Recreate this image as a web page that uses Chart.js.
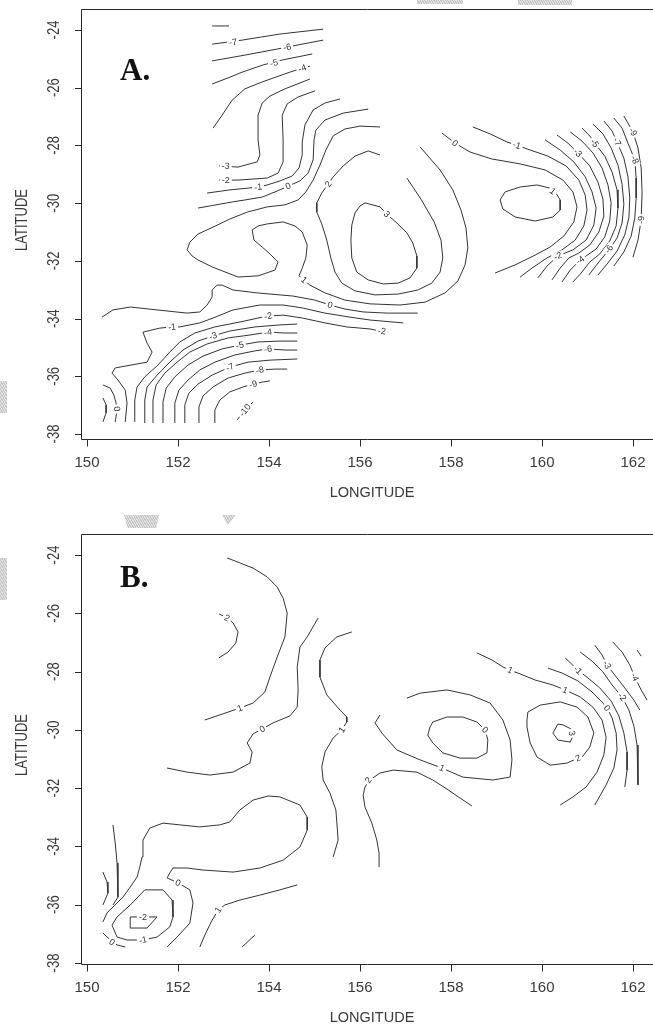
<!DOCTYPE html>
<html>
<head>
<meta charset="utf-8">
<script src="https://cdn.jsdelivr.net/npm/chart.js@4.4.1/dist/chart.umd.min.js"></script>
<style>
  html, body { margin: 0; padding: 0; background: #fff; }
  #wrap { position: relative; width: 653px; height: 1025px; overflow: hidden; background: #fff; }
  canvas { position: absolute; left: 0; }
  #chartA { top: 0; }
  #chartB { top: 520px; }
  .smudge { position: absolute; background: repeating-linear-gradient(60deg, #c4c4c4 0 1px, #e2e2e2 1px 2px); }
</style>
</head>
<body>
<div id="wrap">
  <canvas id="chartA" width="653" height="520"></canvas>
  <canvas id="chartB" width="653" height="505"></canvas>
  <div class="smudge" style="left:417px;top:0;width:46px;height:4px"></div>
  <div class="smudge" style="left:518px;top:0;width:54px;height:5px"></div>
  <div class="smudge" style="left:0;top:381px;width:7px;height:32px"></div>
  <div class="smudge" style="left:124px;top:515px;width:35px;height:13px;clip-path:polygon(0 0,100% 0,92% 100%,10% 100%)"></div>
  <div class="smudge" style="left:222px;top:515px;width:14px;height:10px;clip-path:polygon(0 0,100% 0,40% 100%)"></div>
  <div class="smudge" style="left:0;top:558px;width:7px;height:42px"></div>
</div>
<script>
// axis ticks (both panels)
const lonTicks = [150, 152, 154, 156, 158, 160, 162];
const latTicks = [-24, -26, -28, -30, -32, -34, -36, -38];

// ---- panel A contours (lon, lat) ----
const aNeg8 = [[152.75,-23.86],[153.12,-23.86]];
const aNeg7 = [[152.75,-24.49],[153.41,-24.35],[154.24,-24.14],[155.19,-23.97]];
const aNeg6 = [[152.75,-25.07],[153.47,-24.87],[154.18,-24.66],[154.53,-24.55],[155.19,-24.35]];
const aNeg5 = [[152.75,-25.87],[153.10,-25.66],[153.41,-25.46],[153.87,-25.21],[154.29,-25.04],[154.95,-24.83]];
const aNeg4 = [[152.77,-27.40],[152.97,-26.95],[153.19,-26.43],[153.47,-26.04],[153.85,-25.80],[154.46,-25.46],[154.73,-25.32],[154.90,-25.25]];
const aNeg3 = [[152.90,-28.71],[153.32,-28.75],[153.74,-28.57],[153.80,-28.33],[153.76,-27.81],[153.76,-26.95],[153.85,-26.53],[154.02,-26.29],[154.35,-26.04],[154.90,-25.70]];
const aNeg2 = [[152.90,-29.20],[153.32,-29.20],[153.96,-29.13],[154.20,-28.96],[154.31,-28.57],[154.31,-27.81],[154.29,-26.95],[154.40,-26.56],[154.64,-26.32],[155.01,-26.11]];
const aNeg1 = [[152.64,-29.65],[153.14,-29.54],[153.54,-29.48],[153.76,-29.44],[153.96,-29.37],[154.24,-29.23],[154.51,-29.06],[154.66,-28.78],[154.73,-28.33],[154.73,-27.88],[154.79,-27.29],[154.97,-26.77],[155.23,-26.53],[155.56,-26.39]];
const aZero = [[152.44,-30.17],[153.19,-29.96],[153.47,-29.89],[153.85,-29.79],[154.18,-29.58],[154.42,-29.41],[154.68,-29.23],[154.86,-28.96],[154.97,-28.50],[154.99,-27.81],[155.03,-27.47],[155.23,-27.12],[155.63,-26.88],[156.18,-26.74]];
const aOne = [[156.44,-27.36],[156.00,-27.33],[155.67,-27.43],[155.41,-27.67],[155.25,-28.16],[155.12,-28.68],[154.97,-29.20],[154.81,-29.61],[154.64,-29.89],[154.35,-30.06],[153.96,-30.13],[153.52,-30.31],[153.14,-30.55],[152.77,-30.83],[152.44,-31.07],[152.26,-31.35],[152.20,-31.62],[152.31,-31.83],[152.44,-31.97],[152.75,-32.21],[153.32,-32.56],[153.76,-32.52],[154.13,-32.32],[154.20,-32.04],[154.02,-31.76],[153.85,-31.52],[153.67,-31.28],[153.63,-30.93],[153.76,-30.79],[153.96,-30.72],[154.31,-30.65],[154.57,-30.79],[154.73,-31.00],[154.84,-31.45],[154.81,-31.90],[154.73,-32.25],[154.66,-32.52],[154.90,-32.84],[155.23,-33.11],[155.67,-33.36],[156.22,-33.49],[156.88,-33.53],[157.43,-33.43],[157.87,-33.11],[158.15,-32.70],[158.31,-32.14],[158.37,-31.55],[158.33,-30.86],[158.22,-30.24],[158.04,-29.54],[157.76,-28.85],[157.32,-28.05]];
const aTwo = [[156.44,-28.33],[156.18,-28.19],[155.89,-28.37],[155.63,-28.71],[155.41,-29.09],[155.30,-29.34],[155.16,-29.65],[155.05,-29.99],[155.05,-30.31],[155.16,-30.72],[155.27,-31.28],[155.36,-31.90],[155.45,-32.39],[155.60,-32.77],[155.89,-33.04],[156.33,-33.18],[156.84,-33.15],[157.27,-33.01],[157.58,-32.77],[157.76,-32.39],[157.82,-31.90],[157.78,-31.28],[157.63,-30.65],[157.34,-29.86],[157.03,-29.13]];
const aThree = [[156.11,-29.99],[156.44,-30.13],[156.59,-30.38],[156.81,-30.69],[157.03,-31.03],[157.16,-31.38],[157.25,-31.83],[157.25,-32.25],[157.10,-32.59],[156.84,-32.77],[156.51,-32.80],[156.18,-32.66],[155.93,-32.39],[155.82,-31.90],[155.80,-31.28],[155.82,-30.76],[155.89,-30.34],[156.00,-30.10],[156.11,-29.99]];
const aZeroLow = [[150.33,-33.95],[150.57,-33.70],[150.95,-33.60],[151.54,-33.70],[152.20,-33.81],[152.48,-33.77],[152.64,-33.53],[152.75,-33.25],[152.75,-33.01],[152.86,-32.84],[152.97,-32.84],[153.21,-33.01],[153.74,-33.11],[154.53,-33.22],[155.01,-33.36],[155.34,-33.53],[155.67,-33.67],[156.07,-33.77],[156.59,-33.81],[157.27,-33.81]];
const aNeg1Low = [[150.84,-37.58],[150.88,-36.93],[150.84,-36.48],[150.68,-36.13],[150.55,-35.89],[150.62,-35.71],[151.32,-35.51],[151.43,-35.16],[151.32,-34.85],[151.23,-34.47],[151.60,-34.33],[151.87,-34.29],[152.04,-34.29],[152.48,-34.15],[152.77,-33.98],[153.21,-33.70],[153.80,-33.53],[154.31,-33.53],[154.73,-33.63],[155.23,-33.81],[155.78,-33.95],[156.22,-34.05],[156.95,-34.15]];
const aNeg2Low = [[151.05,-37.58],[151.05,-36.82],[151.10,-36.37],[151.27,-36.02],[151.56,-35.61],[151.82,-35.16],[152.04,-34.81],[152.37,-34.50],[152.81,-34.29],[153.36,-34.12],[153.85,-33.95],[153.98,-33.91],[154.31,-33.88],[154.73,-33.98],[155.23,-34.15],[155.71,-34.29],[156.22,-34.36],[156.44,-34.43],[156.62,-34.47]];
const aNeg3Low = [[151.27,-37.62],[151.27,-36.82],[151.32,-36.37],[151.54,-35.96],[151.82,-35.51],[152.11,-35.09],[152.44,-34.78],[152.77,-34.60],[153.14,-34.43],[153.69,-34.29],[154.24,-34.22],[154.62,-34.19]];
const aNeg4Low = [[151.45,-37.62],[151.45,-36.82],[151.52,-36.30],[151.71,-35.89],[151.98,-35.51],[152.26,-35.16],[152.64,-34.88],[153.10,-34.67],[153.58,-34.57],[153.98,-34.47],[154.35,-34.50],[154.62,-34.50]];
const aNeg5Low = [[151.67,-37.62],[151.67,-36.89],[151.74,-36.41],[151.93,-36.02],[152.22,-35.61],[152.55,-35.30],[152.97,-35.05],[153.36,-34.92],[153.76,-34.81],[154.24,-34.78],[154.62,-34.78]];
const aNeg6Low = [[151.93,-37.62],[151.93,-36.93],[152.02,-36.48],[152.22,-36.13],[152.48,-35.78],[152.81,-35.51],[153.25,-35.26],[153.69,-35.12],[153.98,-35.05],[154.35,-35.09],[154.62,-35.09]];
const aNeg7Low = [[152.15,-37.62],[152.15,-36.99],[152.24,-36.58],[152.44,-36.27],[152.75,-35.96],[153.14,-35.68],[153.54,-35.51],[154.02,-35.44],[154.62,-35.40]];
const aNeg8Low = [[152.46,-37.62],[152.46,-37.06],[152.55,-36.68],[152.77,-36.37],[153.10,-36.06],[153.47,-35.89],[153.80,-35.78],[154.13,-35.75],[154.40,-35.75]];
const aNeg9Low = [[152.81,-37.62],[152.81,-37.17],[152.92,-36.82],[153.14,-36.54],[153.43,-36.37],[153.65,-36.27],[153.85,-36.20],[154.02,-36.16]];
const aNeg10 = [[153.30,-37.51],[153.47,-37.17],[153.65,-36.89]];
const aZeroEdge = [[150.35,-36.75],[150.42,-36.99],[150.42,-37.27],[150.35,-37.58]];
const aZeroWest = [[150.35,-36.30],[150.51,-36.41],[150.59,-36.65],[150.64,-36.93],[150.66,-37.17],[150.62,-37.58]];
const aOneHigh = [[159.08,-29.89],[159.19,-29.61],[159.52,-29.44],[159.89,-29.37],[160.18,-29.48],[160.29,-29.61],[160.40,-29.89],[160.40,-30.24],[160.24,-30.48],[159.85,-30.62],[159.41,-30.48],[159.14,-30.20],[159.08,-29.89]];
const aZeroEast = [[157.80,-27.57],[158.09,-27.92],[158.42,-28.23],[158.90,-28.47],[159.52,-28.64],[160.07,-28.85],[160.46,-29.20],[160.68,-29.61],[160.77,-30.13],[160.70,-30.65],[160.48,-31.14],[160.18,-31.52],[159.85,-31.80],[159.41,-32.14],[158.97,-32.42]];
const aNeg1East = [[158.48,-27.36],[158.86,-27.60],[159.23,-27.88],[159.45,-27.99],[159.67,-28.12],[160.13,-28.37],[160.53,-28.71],[160.81,-29.20],[160.95,-29.72],[160.99,-30.24],[160.92,-30.79],[160.73,-31.28],[160.44,-31.62],[160.11,-31.90],[159.78,-32.25],[159.52,-32.56]];
const aNeg2East = [[160.07,-27.81],[160.40,-28.16],[160.70,-28.57],[160.95,-29.09],[161.10,-29.61],[161.19,-30.17],[161.14,-30.76],[160.97,-31.28],[160.68,-31.62],[160.35,-31.83],[160.11,-32.18],[159.91,-32.59]];
const aNeg3East = [[160.33,-27.64],[160.57,-27.92],[160.79,-28.26],[161.05,-28.71],[161.23,-29.27],[161.34,-29.86],[161.36,-30.45],[161.25,-31.00],[161.05,-31.45],[160.81,-31.73],[160.59,-31.90],[160.40,-32.25],[160.22,-32.66]];
const aNeg4East = [[160.62,-27.53],[160.88,-27.85],[161.12,-28.26],[161.32,-28.78],[161.45,-29.37],[161.52,-29.99],[161.49,-30.62],[161.38,-31.17],[161.19,-31.59],[160.97,-31.83],[160.84,-31.97],[160.62,-32.32],[160.44,-32.73]];
const aNeg5East = [[160.88,-27.40],[161.05,-27.67],[161.16,-27.92],[161.38,-28.37],[161.54,-28.92],[161.65,-29.54],[161.67,-30.17],[161.63,-30.79],[161.49,-31.31],[161.27,-31.76],[161.05,-32.04],[160.84,-32.46],[160.68,-32.73]];
const aNeg6East = [[161.12,-27.26],[161.34,-27.60],[161.52,-28.09],[161.67,-28.68],[161.76,-29.34],[161.80,-30.03],[161.76,-30.69],[161.65,-31.21],[161.47,-31.62],[161.25,-32.04],[161.03,-32.49]];
const aNeg7East = [[161.36,-27.15],[161.54,-27.50],[161.65,-27.88],[161.80,-28.44],[161.89,-29.09],[161.93,-29.82],[161.91,-30.51],[161.82,-31.10],[161.65,-31.66],[161.43,-32.11],[161.23,-32.49]];
const aNeg8East = [[161.58,-27.05],[161.76,-27.40],[161.89,-27.92],[162.04,-28.50],[162.07,-29.13],[162.07,-29.82],[162.04,-30.51],[161.96,-31.14],[161.80,-31.69],[161.58,-32.18]];
const aNeg9East = [[161.80,-26.98],[162.00,-27.53],[162.11,-28.09],[162.18,-28.78],[162.20,-29.61],[162.18,-30.58],[162.11,-31.28],[162.00,-31.87]];

const aLines = [aNeg8, aNeg7, aNeg6, aNeg5, aNeg4, aNeg3, aNeg2, aNeg1, aZero, aOne, aTwo, aThree,
  aZeroLow, aNeg1Low, aNeg2Low, aNeg3Low, aNeg4Low, aNeg5Low, aNeg6Low, aNeg7Low, aNeg8Low, aNeg9Low, aNeg10,
  aZeroEdge, aZeroWest, aOneHigh, aZeroEast, aNeg1East, aNeg2East, aNeg3East, aNeg4East, aNeg5East,
  aNeg6East, aNeg7East, aNeg8East, aNeg9East];

// contour labels: [line, text, lon, lat]
const aLabels = [
  [aNeg7,'-7',153.21,-24.42], [aNeg6,'-6',154.40,-24.59], [aNeg5,'-5',154.11,-25.14], [aNeg4,'-4',154.73,-25.32],
  [aNeg3,'-3',153.05,-28.71], [aNeg2,'-2',153.05,-29.20], [aNeg1,'-1',153.76,-29.44], [aZero,'0',154.42,-29.41],
  [aTwo,'2',155.30,-29.34], [aThree,'3',156.59,-30.38], [aOne,'1',154.77,-32.66], [aZeroLow,'0',155.34,-33.53],
  [aNeg1Low,'-1',151.87,-34.29], [aNeg2Low,'-2',153.98,-33.91], [aNeg2Low,'-2',156.48,-34.43],
  [aNeg3Low,'-3',152.77,-34.60], [aNeg4Low,'-4',153.98,-34.47], [aNeg5Low,'-5',153.36,-34.92],
  [aNeg6Low,'-6',153.98,-35.05], [aNeg7Low,'-7',153.14,-35.68], [aNeg8Low,'-8',153.80,-35.78],
  [aNeg9Low,'-9',153.65,-36.27], [aNeg10,'-10',153.47,-37.17], [aZeroWest,'0',150.66,-37.13],
  [aOneHigh,'1',160.24,-29.58], [aZeroEast,'0',158.09,-27.92], [aNeg1East,'-1',159.45,-27.99],
  [aNeg2East,'-2',160.35,-31.83], [aNeg3East,'-3',160.79,-28.26], [aNeg4East,'-4',160.84,-31.97],
  [aNeg5East,'-5',161.16,-27.92], [aNeg6East,'-6',161.47,-31.59], [aNeg7East,'-7',161.65,-27.88],
  [aNeg8East,'-8',162.04,-28.50], [aNeg9East,'-9',162.00,-27.53], [aNeg9East,'-9',162.18,-30.58]
];

// ---- panel B contours (lon, lat) ----
const bOneNW = [[153.08,-24.10],[153.36,-24.27],[153.65,-24.45],[153.96,-24.75],[154.18,-25.10],[154.31,-25.48],[154.40,-25.99],[154.35,-26.81],[154.18,-27.50],[154.02,-28.19],[153.91,-28.70],[153.65,-29.08],[153.36,-29.25],[152.97,-29.46],[152.59,-29.66]];
const bTwoNW = [[152.90,-26.02],[153.08,-26.16],[153.21,-26.33],[153.32,-26.64],[153.27,-27.02],[153.10,-27.33],[152.90,-27.53]];
const bZeroW = [[151.76,-31.31],[152.20,-31.45],[152.70,-31.55],[153.21,-31.45],[153.58,-31.14],[153.63,-30.76],[153.52,-30.45],[153.65,-30.14],[153.85,-29.97],[154.09,-29.76],[154.46,-29.52],[154.62,-29.22],[154.64,-28.63],[154.62,-27.84],[154.68,-27.16],[154.84,-26.81],[155.08,-26.16]];
const bOneMid = [[155.82,-26.64],[155.49,-26.81],[155.23,-27.19],[155.12,-27.60],[155.12,-28.19],[155.27,-28.80],[155.56,-29.32],[155.71,-29.56],[155.71,-29.73],[155.60,-30.00],[155.41,-30.28],[155.23,-30.76],[155.16,-31.27],[155.19,-31.72],[155.34,-32.17],[155.47,-32.75],[155.52,-33.78],[155.41,-34.36]];
const bTwoMid = [[156.42,-34.71],[156.42,-34.23],[156.37,-33.78],[156.26,-33.20],[156.11,-32.65],[156.07,-32.24],[156.11,-31.96],[156.22,-31.72],[156.44,-31.48],[156.73,-31.38],[157.25,-31.45],[157.60,-31.72],[157.91,-32.03],[158.20,-32.34],[158.46,-32.61]];
const bOneU = [[157.03,-28.91],[157.32,-28.74],[157.91,-28.63],[158.42,-28.80],[158.86,-29.08],[159.14,-29.66],[159.30,-30.35],[159.34,-31.03],[159.30,-31.62],[158.92,-31.72],[158.26,-31.62],[157.80,-31.31],[157.32,-31.03],[156.81,-30.69],[156.48,-30.11],[156.33,-29.76],[156.44,-29.49]];
const bZeroLoop = [[157.54,-29.90],[157.60,-29.73],[157.91,-29.56],[158.26,-29.56],[158.57,-29.73],[158.75,-30.00],[158.81,-30.35],[158.79,-30.79],[158.57,-30.97],[158.20,-30.97],[157.82,-30.79],[157.60,-30.45],[157.49,-30.18],[157.54,-29.90]];
const bOneE = [[158.57,-27.36],[158.90,-27.60],[159.14,-27.84],[159.30,-27.95],[159.52,-28.08],[159.85,-28.29],[160.24,-28.46],[160.51,-28.63],[160.84,-28.87],[161.12,-29.22],[161.32,-29.66],[161.41,-30.25],[161.36,-30.86],[161.21,-31.45],[160.97,-31.96],[160.68,-32.30],[160.40,-32.58]];
const bZeroE = [[160.13,-27.88],[160.44,-28.05],[160.79,-28.32],[161.10,-28.70],[161.34,-29.08],[161.43,-29.25],[161.54,-29.59],[161.63,-30.11],[161.65,-30.69],[161.58,-31.31],[161.41,-31.89],[161.16,-32.58]];
const bNeg1E = [[160.51,-27.53],[160.79,-27.95],[161.01,-28.22],[161.27,-28.56],[161.52,-29.01],[161.69,-29.52],[161.80,-30.11],[161.87,-30.76],[161.87,-31.38],[161.82,-31.96]];
const bNeg2E = [[160.84,-27.33],[161.10,-27.64],[161.34,-28.01],[161.54,-28.46],[161.76,-28.87],[161.91,-29.32],[162.02,-29.87],[162.09,-30.52],[162.11,-31.21],[162.11,-31.89]];
const bNeg3E = [[161.16,-27.09],[161.32,-27.43],[161.43,-27.77],[161.60,-28.12],[161.82,-28.56],[162.02,-28.98],[162.15,-29.32]];
const bNeg4E = [[161.56,-26.99],[161.76,-27.33],[161.93,-27.77],[162.04,-28.19],[162.18,-28.63],[162.31,-28.98]];
const bStubE = [[162.09,-27.26],[162.18,-27.47]];
const bTwoLoop = [[159.67,-29.66],[159.69,-29.39],[159.96,-29.15],[160.40,-29.04],[160.77,-29.22],[161.01,-29.56],[161.14,-30.11],[161.05,-30.59],[160.90,-30.90],[160.79,-30.97],[160.55,-31.14],[160.18,-31.21],[159.89,-30.93],[159.74,-30.45],[159.67,-29.90],[159.67,-29.66]];
const bThree = [[160.35,-29.80],[160.24,-30.11],[160.35,-30.35],[160.62,-30.42],[160.68,-30.21],[160.64,-29.97],[160.46,-29.83],[160.35,-29.80]];
const bZeroLobe = [[150.35,-36.59],[150.44,-36.28],[150.66,-35.94],[150.79,-35.74],[150.95,-35.39],[151.10,-35.05],[151.16,-34.71],[151.21,-34.36],[151.23,-33.78],[151.38,-33.37],[151.67,-33.20],[152.04,-33.26],[152.48,-33.33],[152.92,-33.26],[153.14,-33.16],[153.36,-32.75],[153.65,-32.41],[153.98,-32.27],[154.24,-32.30],[154.68,-32.58],[154.84,-32.99],[154.84,-33.44],[154.68,-34.02],[154.31,-34.47],[153.80,-34.74],[153.21,-34.88],[152.55,-34.81],[152.20,-34.74],[151.89,-34.74],[151.82,-34.91],[151.76,-35.08],[152.00,-35.25],[152.26,-35.49],[152.33,-35.94],[152.26,-36.63],[151.98,-37.11],[151.76,-37.45]];
const bZeroSW = [[150.35,-36.97],[150.51,-37.21],[150.66,-37.38],[150.84,-37.45]];
const bNeg1 = [[151.27,-35.49],[151.67,-35.49],[151.87,-35.84],[151.89,-36.42],[151.82,-36.76],[151.54,-37.11],[151.23,-37.21],[150.88,-37.21],[150.66,-37.11],[150.55,-36.70],[150.66,-36.42],[150.95,-36.01],[151.27,-35.49]];
const bNeg2 = [[150.95,-36.42],[151.54,-36.42],[151.32,-36.80],[150.95,-36.80],[150.95,-36.42]];
const bWest1 = [[150.57,-33.26],[150.62,-33.88],[150.66,-34.57],[150.68,-35.25],[150.68,-35.74],[150.57,-36.01]];
const bWest2 = [[150.35,-34.88],[150.44,-35.22],[150.46,-35.60],[150.35,-36.01]];
const bOneS = [[152.48,-37.45],[152.59,-37.04],[152.73,-36.59],[152.88,-36.18],[153.03,-36.01],[153.36,-35.84],[153.80,-35.67],[154.24,-35.49],[154.62,-35.32]];
const bStubS = [[153.41,-37.45],[153.69,-37.04]];

const bLines = [bOneNW, bTwoNW, bZeroW, bOneMid, bTwoMid, bOneU, bZeroLoop, bOneE, bZeroE, bNeg1E, bNeg2E,
  bNeg3E, bNeg4E, bStubE, bTwoLoop, bThree, bZeroLobe, bZeroSW, bNeg1, bNeg2, bWest1, bWest2, bOneS, bStubS];

const bLabels = [
  [bOneNW,'1',153.36,-29.25], [bTwoNW,'2',153.08,-26.16], [bZeroW,'0',153.85,-29.97], [bOneMid,'1',155.60,-30.00],
  [bTwoMid,'2',156.18,-31.72], [bOneU,'1',157.80,-31.31], [bZeroLoop,'0',158.75,-30.00], [bOneE,'1',159.30,-27.95],
  [bOneE,'1',160.51,-28.63], [bZeroE,'0',161.43,-29.25], [bNeg1E,'-1',160.79,-27.95], [bNeg2E,'-2',161.76,-28.87],
  [bNeg3E,'-3',161.43,-27.77], [bNeg4E,'-4',162.04,-28.19], [bTwoLoop,'2',160.79,-30.97], [bThree,'3',160.66,-30.11],
  [bZeroLobe,'0',152.00,-35.25], [bZeroSW,'0',150.55,-37.28], [bNeg1,'-1',151.23,-37.21], [bNeg2,'-2',151.23,-36.42],
  [bOneS,'1',152.88,-36.18]
];

const LINE = '#333';
const SANS = '"Liberation Sans", Arial, sans-serif';

function labelAngle(line, px, py, xs, ys) {
  let best = Infinity, ang = 0;
  for (let i = 0; i < line.length - 1; i++) {
    const x1 = xs.getPixelForValue(line[i][0]), y1 = ys.getPixelForValue(line[i][1]);
    const x2 = xs.getPixelForValue(line[i + 1][0]), y2 = ys.getPixelForValue(line[i + 1][1]);
    const dx = x2 - x1, dy = y2 - y1, len = dx * dx + dy * dy || 1;
    const t = Math.max(0, Math.min(1, ((px - x1) * dx + (py - y1) * dy) / len));
    const qx = x1 + t * dx - px, qy = y1 + t * dy - py, d = qx * qx + qy * qy;
    if (d < best) { best = d; ang = Math.atan2(dy, dx); }
  }
  if (ang > Math.PI / 2) ang -= Math.PI;
  if (ang < -Math.PI / 2) ang += Math.PI;
  return ang;
}

// contour labels, box, ticks and titles drawn R-style
const framePlugin = {
  id: 'frame',
  afterDatasetsDraw(chart, args, opts) {
    const { ctx, chartArea: a, scales: { x, y } } = chart;
    ctx.save();

    ctx.font = '9px ' + SANS;
    ctx.textAlign = 'center';
    ctx.textBaseline = 'middle';
    opts.labels.forEach(([line, text, lon, lat]) => {
      const px = x.getPixelForValue(lon), py = y.getPixelForValue(lat);
      const w = ctx.measureText(text).width;
      ctx.save();
      ctx.translate(px, py);
      ctx.rotate(labelAngle(line, px, py, x, y));
      ctx.fillStyle = '#fff';
      ctx.fillRect(-w / 2 - 2, -4, w + 4, 8);
      ctx.fillStyle = '#333';
      ctx.fillText(text, 0, 0.5);
      ctx.restore();
    });

    ctx.strokeStyle = '#2a2a2a';
    ctx.lineWidth = 1;
    ctx.beginPath();
    ctx.moveTo(a.right, a.top + 0.5);
    ctx.lineTo(a.left + 0.5, a.top + 0.5);
    ctx.lineTo(a.left + 0.5, a.bottom + 0.5);
    ctx.lineTo(a.right, a.bottom + 0.5);
    lonTicks.forEach(v => {
      const px = Math.round(x.getPixelForValue(v)) + 0.5;
      ctx.moveTo(px, a.bottom + 0.5);
      ctx.lineTo(px, a.bottom + 7.5);
    });
    latTicks.forEach(v => {
      const py = Math.round(y.getPixelForValue(v)) + 0.5;
      ctx.moveTo(a.left + 0.5, py);
      ctx.lineTo(a.left - 6, py);
    });
    ctx.stroke();

    ctx.fillStyle = '#3a3a3a';
    ctx.font = '15px ' + SANS;
    lonTicks.forEach(v => ctx.fillText(String(v), x.getPixelForValue(v), a.bottom + 24));
    ctx.font = '14.5px ' + SANS;
    ctx.fillText('LONGITUDE', 372, a.bottom + 54);

    const vText = (s, cx, cy, size) => {
      ctx.save();
      ctx.translate(cx, cy);
      ctx.rotate(-Math.PI / 2);
      ctx.scale(1, 1.2);
      ctx.font = size + 'px ' + SANS;
      ctx.fillText(s, 0, 0);
      ctx.restore();
    };
    latTicks.forEach(v => vText(String(v), 55, y.getPixelForValue(v), 13));
    vText('LATITUDE', 23, (a.top + a.bottom) / 2 - 4, 13);

    ctx.fillStyle = '#111';
    ctx.textAlign = 'left';
    ctx.textBaseline = 'alphabetic';
    ctx.font = 'bold 31px "Liberation Serif", "Times New Roman", serif';
    ctx.fillText(opts.letter, 120, a.top + opts.letterDrop);
    ctx.restore();
  }
};

function makeChart(id, lines, labels, letter, letterDrop, latMax, latMin, pad) {
  new Chart(document.getElementById(id), {
    type: 'scatter',
    data: {
      datasets: lines.map(line => ({
        data: line.map(([lon, lat]) => ({ x: lon, y: lat })),
        showLine: true,
        borderColor: LINE,
        borderWidth: 1,
        pointRadius: 0,
        fill: false,
        tension: 0
      }))
    },
    options: {
      responsive: false,
      animation: false,
      devicePixelRatio: 1,
      events: [],
      layout: { padding: pad },
      scales: {
        x: { type: 'linear', min: 149.868, max: 162.44, display: false },
        y: { type: 'linear', min: latMin, max: latMax, display: false }
      },
      plugins: {
        legend: { display: false },
        tooltip: { enabled: false },
        frame: { labels: labels, letter: letter, letterDrop: letterDrop }
      }
    },
    plugins: [framePlugin]
  });
}

makeChart('chartA', aLines, aLabels, 'A.', 71, -23.272, -38.173, { left: 81, right: 0, top: 9, bottom: 81 });
makeChart('chartB', bLines, bLabels, 'B.', 53, -23.279, -38.034, { left: 81, right: 0, top: 14, bottom: 61 });
</script>
</body>
</html>
